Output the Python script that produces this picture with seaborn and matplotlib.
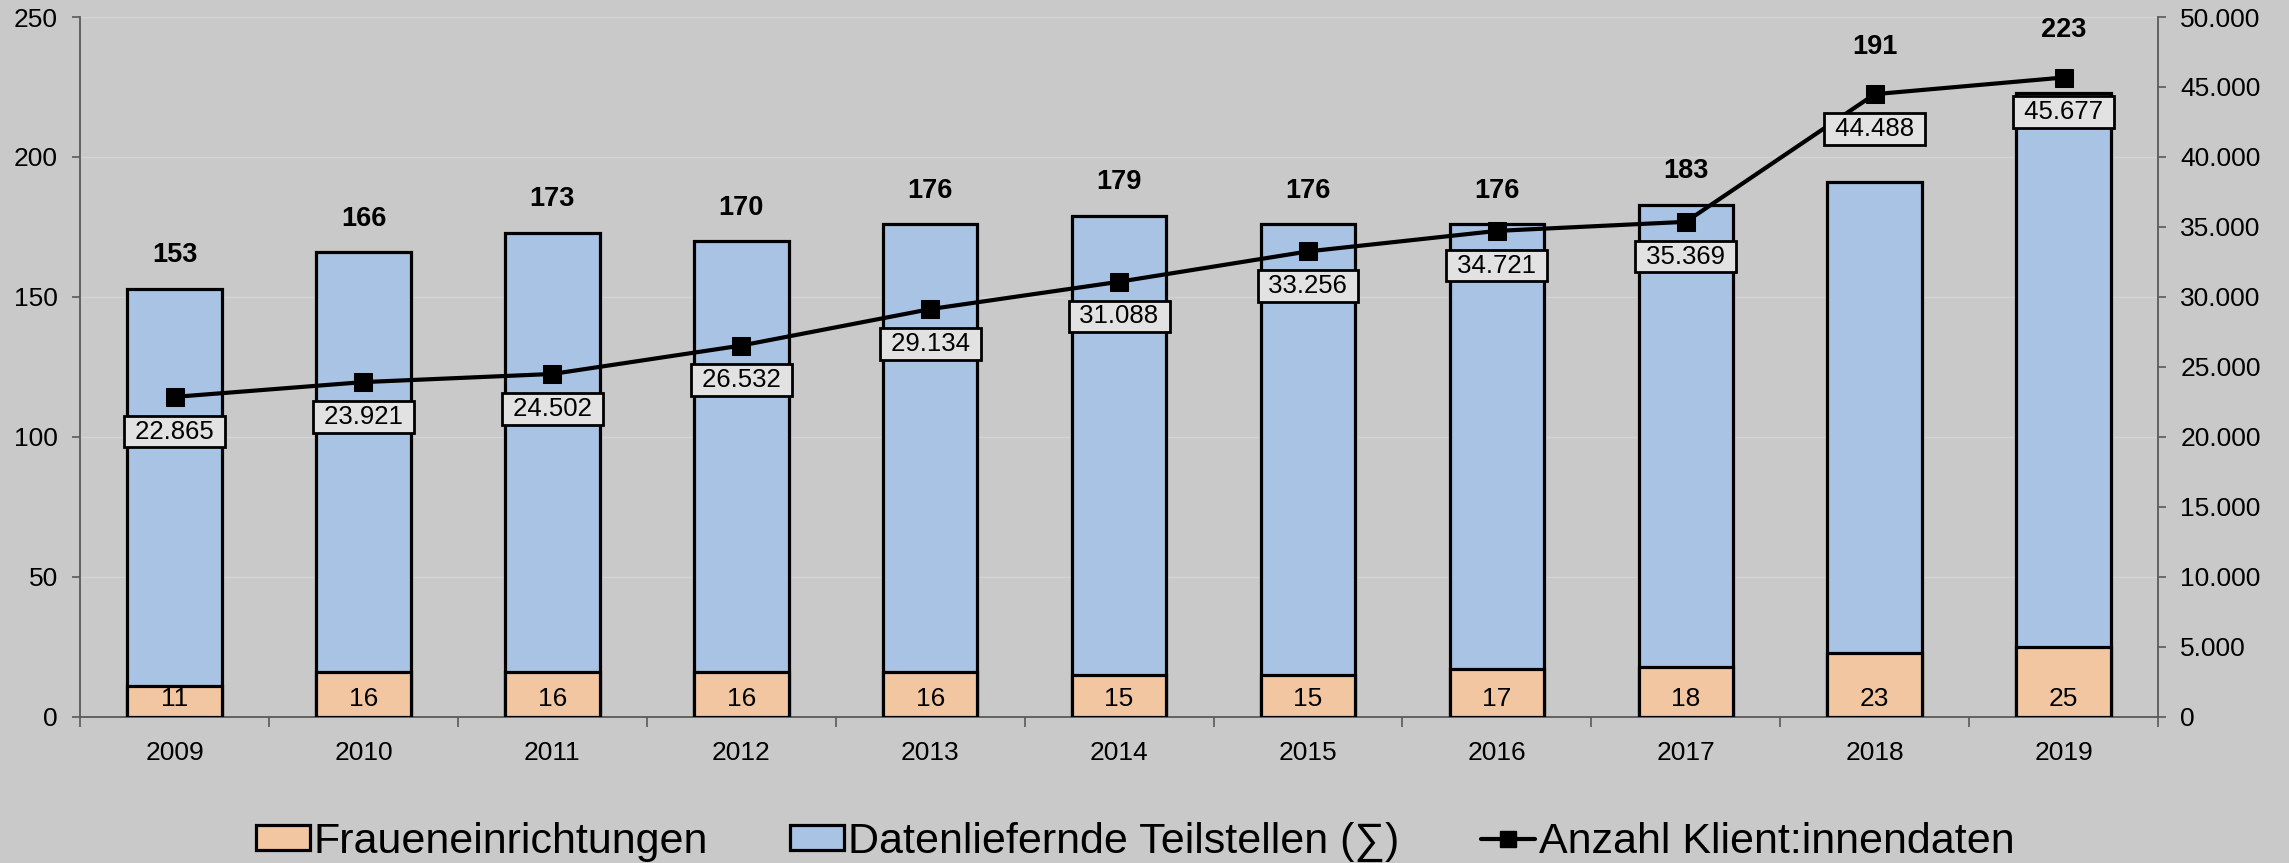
import numpy as np
import matplotlib
matplotlib.use("Agg")
import matplotlib.pyplot as plt
import seaborn as sns
from matplotlib.patches import Patch
from matplotlib.lines import Line2D
from matplotlib.ticker import FuncFormatter, MultipleLocator

# ---- data ----
years = ["2009", "2010", "2011", "2012", "2013", "2014", "2015", "2016", "2017", "2018", "2019"]
teilstellen_total = [153, 166, 173, 170, 176, 179, 176, 176, 183, 191, 223]
fraueneinrichtungen = [11, 16, 16, 16, 16, 15, 15, 17, 18, 23, 25]
klientinnendaten = [22865, 23921, 24502, 26532, 29134, 31088, 33256, 34721, 35369, 44488, 45677]

label_frauen = "Fraueneinrichtungen"
label_total = "Datenliefernde Teilstellen (\u2211)"
label_clients = "Anzahl Klient:innendaten"

# ---- style ----
sns.set_theme(style="white")
plt.rcParams["font.family"] = ["Liberation Sans", "DejaVu Sans"]
plt.rcParams["text.color"] = "black"
plt.rcParams["xtick.color"] = "black"
plt.rcParams["ytick.color"] = "black"
plt.rcParams["axes.labelcolor"] = "black"

BLUE = "#a9c3e4"
ORANGE = "#f3c6a2"
BG = "#c9c9c9"
SPINE = "#5a5a5a"
FS = 19

fig = plt.figure(figsize=(22.89, 8.63), dpi=100, facecolor=BG)
ax = fig.add_axes([0.035, 0.1692, 0.9078, 0.8111])
ax.set_facecolor("none")

sns.barplot(x=years, y=teilstellen_total, color=BLUE, width=0.5, saturation=1,
            edgecolor="black", linewidth=2.3, ax=ax, zorder=2)
sns.barplot(x=years, y=fraueneinrichtungen, color=ORANGE, width=0.5, saturation=1,
            edgecolor="black", linewidth=2.3, ax=ax, zorder=3)

n = len(years)
ax.set_xlim(-0.5, n - 0.5)
ax.set_ylim(0, 250)
ax.yaxis.set_major_locator(MultipleLocator(50))
ax.set_xlabel("")
ax.set_ylabel("")

# grid
ax.set_axisbelow(True)
ax.yaxis.grid(True, color="#dcdcdc", lw=1.0, alpha=0.6)

for s in ["top", "right"]:
    ax.spines[s].set_visible(False)
for s in ["left", "bottom"]:
    ax.spines[s].set_color(SPINE)
    ax.spines[s].set_linewidth(1.3)

ax.tick_params(axis="y", which="major", length=6, width=1.2, color=SPINE,
               labelsize=FS, pad=10, direction="out", left=True, labelcolor="black")
ax.set_xticks(range(n))
ax.set_xticklabels(years)
ax.set_xticks(np.arange(-0.5, n, 1.0), minor=True)
ax.tick_params(axis="x", which="major", length=0, labelsize=FS, pad=17, labelcolor="black")
ax.tick_params(axis="x", which="minor", length=7, width=1.2, color=SPINE,
               direction="out", bottom=True)

# secondary axis with line
ax2 = ax.twinx()
ax2.set_facecolor("none")
sns.lineplot(x=np.arange(n), y=klientinnendaten, ax=ax2, color="black", lw=3,
             marker="s", markersize=13, markeredgecolor="black", zorder=5)
ax2.set_ylim(0, 50000)
ax2.yaxis.set_major_locator(MultipleLocator(5000))
ax2.yaxis.set_major_formatter(FuncFormatter(lambda v, p: f"{int(v):,}".replace(",", ".")))
for s in ["top", "left", "bottom"]:
    ax2.spines[s].set_visible(False)
ax2.spines["right"].set_color(SPINE)
ax2.spines["right"].set_linewidth(1.3)
ax2.tick_params(axis="y", length=6, width=1.2, color=SPINE, labelsize=FS, pad=10,
                direction="out", right=True, labelcolor="black")
ax2.set_xlim(-0.5, n - 0.5)
ax2.set_ylabel("")

# value labels for line (boxed)
for i, v in enumerate(klientinnendaten):
    ax2.annotate(" " + f"{v:,}".replace(",", ".") + " ", (i, v), xytext=(0, -25),
                 textcoords="offset points", ha="center", va="center", fontsize=18.5,
                 bbox=dict(boxstyle="square,pad=0.15", fc="#e2e2e2", ec="black", lw=2),
                 zorder=6)

# labels inside base of orange bars
for i, v in enumerate(fraueneinrichtungen):
    ax.annotate(str(v), (i, 0), xytext=(0, 13), textcoords="offset points",
                ha="center", va="center", fontsize=FS, zorder=4)

# total labels above bars (or above line marker if higher)
scale = 250 / 50000
for i, (t, c) in enumerate(zip(teilstellen_total, klientinnendaten)):
    cl = c * scale
    if cl > t:
        y, off = cl, 34
    else:
        y, off = t, 24
    ax.annotate(str(t), (i, y), xytext=(0, off), textcoords="offset points",
                ha="center", va="center", fontsize=19.5, fontweight="bold", zorder=7)

# legend
handles = [
    Patch(facecolor=ORANGE, edgecolor="black", lw=2.3),
    Patch(facecolor=BLUE, edgecolor="black", lw=2.3),
    Line2D([], [], color="black", lw=3, marker="s", markersize=11),
]
fig.legend(handles, [label_frauen, label_total, label_clients], loc="center",
           bbox_to_anchor=(0.496, 1 - 842 / 863), ncol=3, frameon=False, fontsize=31,
           handlelength=1.25, handleheight=0.52, handletextpad=0.1, columnspacing=1.9)

fig.savefig("out.png", dpi=100, facecolor=BG)
